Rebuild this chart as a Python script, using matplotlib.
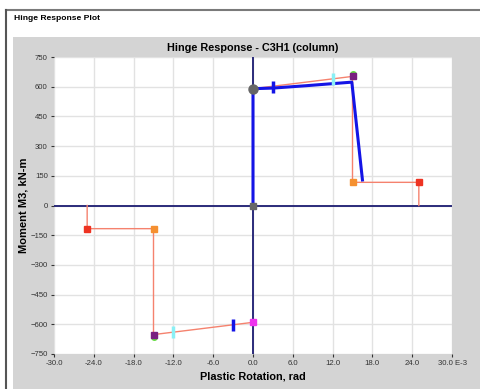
import matplotlib
matplotlib.use("Agg")
import matplotlib.pyplot as plt
from matplotlib.patches import Rectangle
from matplotlib.lines import Line2D

plt.rcParams["font.family"] = ["Liberation Sans", "DejaVu Sans"]

# backbone (positive / negative), rotation in E-3 rad, moment in kN-m
pos_rot = [0.0, 15.0, 15.0, 25.0, 25.0]
pos_mom = [590, 652, 117, 117, 0]
neg_rot = [0.0, -15.0, -15.0, -25.0, -25.0]
neg_mom = [-590, -652, -117, -117, 0]

# hinge response curve
resp_rot = [0.0, 0.0, 3.0, 8.0, 14.9, 16.5]
resp_mom = [0, 590, 593, 605, 623, 129]

# acceptance criteria markers
io_pts = [(3.0, 597), (-3.0, -606)]
ls_pts = [(12.0, 639), (-12.0, -639)]

xticks = [-30, -24, -18, -12, -6, 0, 6, 12, 18, 24, 30]
xticklabels = ["-30.0", "-24.0", "-18.0", "-12.0", "-6.0", "0.0",
               "6.0", "12.0", "18.0", "24.0", "30.0 E-3"]
yticks = [750, 600, 450, 300, 150, 0, -150, -300, -450, -600, -750]

W, H = 480, 389
fig = plt.figure(figsize=(W / 100, H / 100), dpi=100)
fig.patch.set_facecolor("white")

# window frame and grey panel
fig.add_artist(Rectangle((13 / W, 0), 1, (H - 37) / H, transform=fig.transFigure,
                         facecolor="#d4d4d4", edgecolor="none", zorder=0))
fig.add_artist(Line2D([6 / W, 1], [1 - 10 / H, 1 - 10 / H], transform=fig.transFigure,
                      color="#7a7a7a", lw=1.5))
fig.add_artist(Line2D([6 / W, 6 / W], [0, 1 - 10 / H], transform=fig.transFigure,
                      color="#555555", lw=1.5))
fig.text(14 / W, 1 - 19 / H, "Hinge Response Plot", fontsize=6.1, fontweight="bold",
         va="center", ha="left")

ax = fig.add_axes([54 / W, (H - 354) / H, 398 / W, 297 / H])
ax.set_facecolor("white")
ax.set_xlim(-30, 30)
ax.set_ylim(-750, 750)
ax.set_xticks(xticks)
ax.set_xticklabels(xticklabels)
ax.set_yticks(yticks)
ax.tick_params(labelsize=5.6, colors="#333333", length=2.5, width=0.8, pad=2)
for s in ax.spines.values():
    s.set_visible(False)
ax.grid(True, color="#e2e2e2", lw=1)
ax.set_axisbelow(True)

ax.axhline(0, color="#2b2b7a", lw=1.4, zorder=2)
ax.axvline(0, color="#2b2b7a", lw=1.4, zorder=2)

ax.plot(pos_rot, pos_mom, color="#f5826e", lw=1, zorder=3)
ax.plot(neg_rot, neg_mom, color="#f5826e", lw=1, zorder=3)
ax.plot(resp_rot, resp_mom, color="#1414e6", lw=2.2, zorder=4)

# backbone points
ax.plot([15, -15], [662, -662], "o", color="#66dd44", ms=4, zorder=5)
ax.plot([15, -15], [652, -652], "s", color="#7a2080", ms=5, zorder=6)
ax.plot([15, -15], [117, -117], "s", color="#f59030", ms=5, zorder=6)
ax.plot([25, -25], [117, -117], "s", color="#ee3322", ms=5, zorder=6)
ax.plot([0], [-590], "s", color="#ee33ee", ms=5, zorder=6)
ax.plot([0], [590], "o", color="#666666", ms=6.5, zorder=6)
ax.plot([0], [0], "s", color="#666666", ms=4, zorder=6)

for x, y in io_pts:
    ax.plot([x], [y], "|", color="#1414e6", ms=9, mew=2.5, zorder=7)
for x, y in ls_pts:
    ax.plot([x], [y], "|", color="#8af0f5", ms=9, mew=2.5, zorder=7)

ax.set_title("Hinge Response - C3H1 (column)", fontsize=7.8, fontweight="bold", pad=4)
ax.set_xlabel("Plastic Rotation, rad", fontsize=7.8, fontweight="bold", labelpad=3)
ax.set_ylabel("Moment M3, kN-m", fontsize=8, fontweight="bold", labelpad=1)

fig.savefig("out.png", dpi=100)
